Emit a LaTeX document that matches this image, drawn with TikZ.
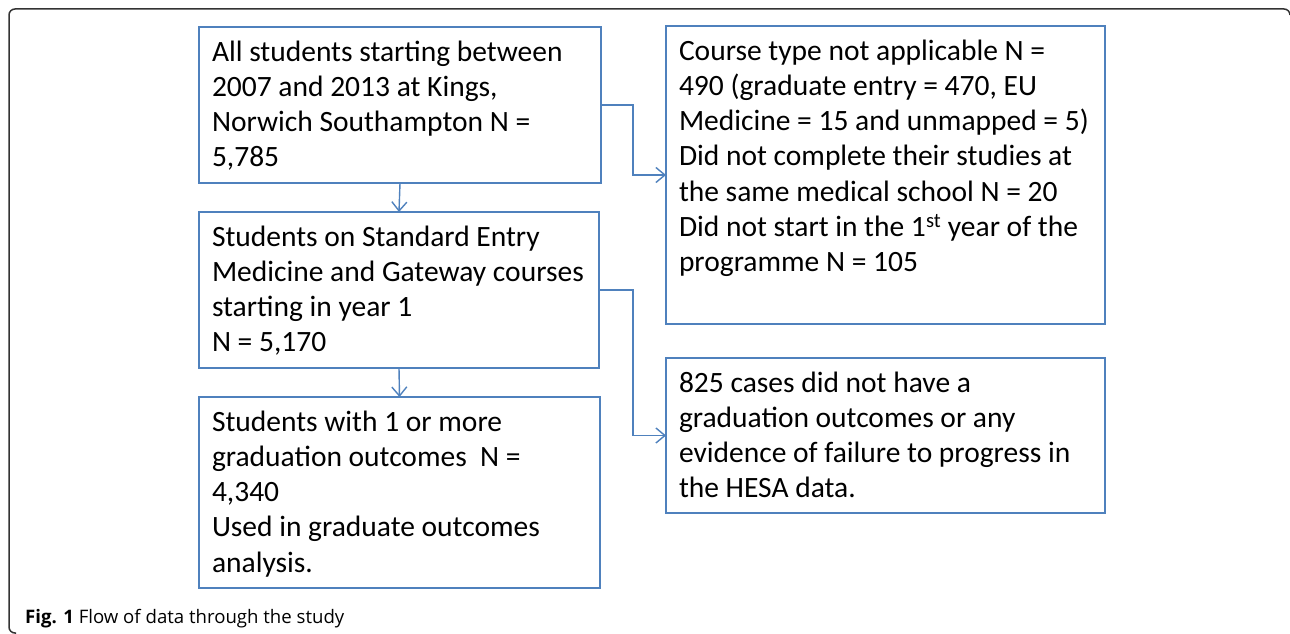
\documentclass[tikz,border=0pt]{standalone}
\usepackage{fontspec}
\setmainfont{Carlito}
\newfontfamily\capfont{Open Sans}
\usetikzlibrary{arrows.meta}
\definecolor{boxblue}{HTML}{4F81BD}
\definecolor{framegray}{HTML}{333333}
\newcommand{\flowtext}[3]{\parbox[c][#2][t]{#1}{\raggedright\fontsize{29.5}{35.3}\selectfont\rule{0pt}{34pt}#3}}
\tikzset{
  flowbox/.style={draw=boxblue, line width=1.6pt, inner xsep=13pt, inner ysep=0pt, outer sep=0pt, anchor=north west},
  conn/.style={draw=boxblue, line width=1.4pt, -{Straight Barb[length=9pt,width=15pt,line width=1.4pt]}}
}
\begin{document}
\begin{tikzpicture}[x=1pt,y=-1pt]
\useasboundingbox (0,0) rectangle (1290,634);
% outer frame
\draw[framegray, line width=1.5pt, rounded corners=6pt] (1290,14) -- (1290,9) -- (9,9) -- (9,633) -- (16,633);
% boxes
\node[flowbox] (A) at (199,27) {\flowtext{376pt}{156pt}{All students starting between\\2007 and 2013 at Kings,\\Norwich Southampton N =\\5,785}};
\node[flowbox] (B) at (199,212) {\flowtext{374pt}{156pt}{Students on Standard Entry\\Medicine and Gateway courses\\starting in year 1\\N = 5,170}};
\node[flowbox] (C) at (199,397) {\flowtext{375pt}{191pt}{Students with 1 or more\\graduation outcomes\ \ N =\\4,340\\Used in graduate outcomes\\analysis.}};
\node[flowbox] (D) at (666,26) {\flowtext{413pt}{298pt}{Course type not applicable N =\\490 (graduate entry = 470, EU\\Medicine = 15 and unmapped = 5)\\Did not complete their studies at\\the same medical school N = 20\\Did not start in the 1\textsuperscript{st} year of the\\programme N = 105}};
\node[flowbox] (E) at (666,358) {\flowtext{413pt}{155pt}{825 cases did not have a\\graduation outcomes or any\\evidence of failure to progress in\\the HESA data.}};
% connectors
\draw[conn] (A.south) -- (B.north);
\draw[conn] (B.south) -- (C.north);
\draw[conn] (A.east) -- ++(32,0) |- (D.west);
\draw[conn] (B.east) -- ++(34,0) |- (E.west);
% caption
\node[anchor=base west, inner sep=0pt] (cap) at (25,623) {\capfont\fontsize{18.6}{22}\selectfont\textbf{Fig. 1} Flow of data through the study};
\end{tikzpicture}
\end{document}
